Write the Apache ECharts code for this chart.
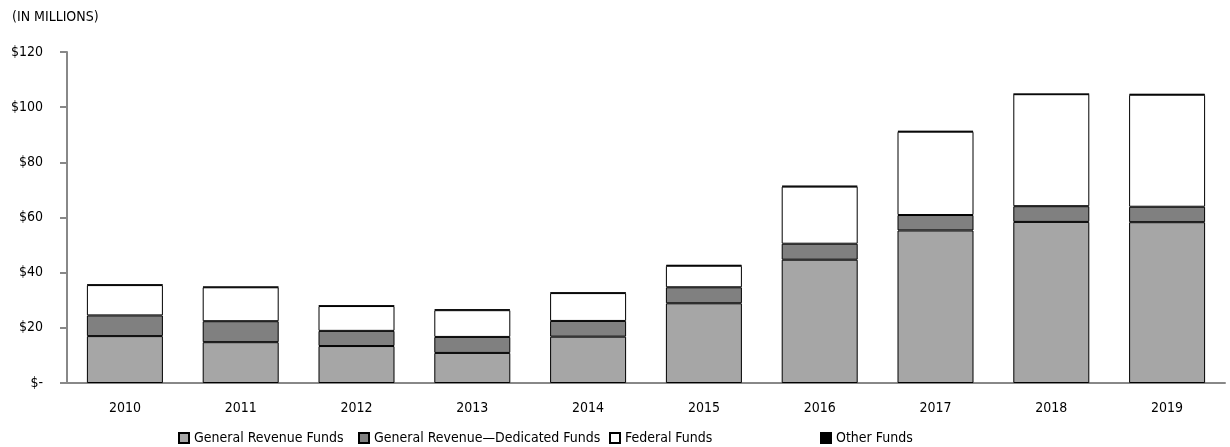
<!DOCTYPE html>
<html><head><meta charset="utf-8">
<script src="https://cdn.jsdelivr.net/npm/echarts@6/dist/echarts.min.js"></script>
<style>html,body{margin:0;padding:0;background:#fff}#c{width:1230px;height:447px}</style>
</head><body><div id="c"></div>
<script>
const years = ['2010','2011','2012','2013','2014','2015','2016','2017','2018','2019'];
const generalRevenue = [17.0, 14.8, 13.4, 10.9, 16.8, 28.9, 44.7, 55.3, 58.4, 58.3];
const generalRevenueDedicated = [7.5, 7.6, 5.5, 5.8, 5.7, 5.8, 5.8, 5.6, 5.7, 5.6];
const federalFunds = [11.0, 12.3, 9.0, 9.7, 10.1, 7.8, 20.7, 30.2, 40.6, 40.6];
const otherFunds = [0.2, 0.2, 0.2, 0.3, 0.2, 0.3, 0.3, 0.3, 0.1, 0.3];
const seriesNames = ['General Revenue Funds','General Revenue\u2014Dedicated Funds','Federal Funds','Other Funds'];
const yTicks = [0, 20, 40, 60, 80, 100, 120];

const FONT = '"DejaVu Sans Condensed","Liberation Sans Narrow",sans-serif';
const TXT = '#000';
const FS = 14;
const colors = ['#a6a6a6','#808080','#ffffff','#000000'];
const datas = [generalRevenue, generalRevenueDedicated, federalFunds, otherFunds];
const legendLeft = [173, 353, 604, 815];

const chart = echarts.init(document.getElementById('c'), null, {renderer:'canvas'});
chart.setOption({
  animation: false,
  title: {text: '(IN MILLIONS)', left: 7, top: 5,
    textStyle: {fontFamily: FONT, fontSize: FS, fontWeight: 'normal', color: TXT}},
  grid: {left: 67, right: 5, top: 52, bottom: 64, containLabel: false},
  legend: seriesNames.map((n, i) => ({
    data: [n], left: legendLeft[i], top: 426, icon: 'rect', itemWidth: 10, itemHeight: 10, itemGap: 4,
    textStyle: {fontFamily: FONT, fontSize: FS, color: TXT}
  })),
  xAxis: {
    type: 'category', data: years,
    axisLine: {lineStyle: {color: '#888', width: 2}},
    axisTick: {show: false},
    axisLabel: {fontFamily: FONT, fontSize: FS, color: TXT, margin: 18}
  },
  yAxis: {
    type: 'value', min: yTicks[0], max: yTicks[yTicks.length-1], interval: 20,
    splitLine: {show: false},
    axisLine: {show: true, lineStyle: {color: '#888', width: 2}},
    axisTick: {show: true, length: 7, lineStyle: {color: '#888', width: 2}},
    axisLabel: {fontFamily: FONT, fontSize: FS, color: TXT, margin: 24,
      formatter: v => v === 0 ? '$-' : '$' + v}
  },
  series: seriesNames.map((n, i) => ({
    name: n, type: 'bar', stack: 'total', data: datas[i], barWidth: 76,
    itemStyle: {color: colors[i], borderColor: '#000', borderWidth: 1}
  }))
});
</script></body></html>
